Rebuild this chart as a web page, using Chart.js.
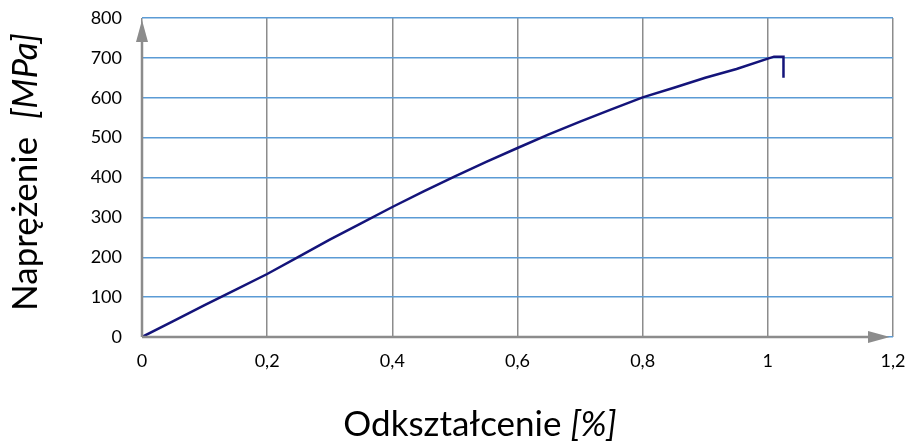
<!DOCTYPE html>
<html>
<head>
<meta charset="utf-8">
<script src="https://cdn.jsdelivr.net/npm/chart.js@4.4.0/dist/chart.umd.min.js"></script>
<style>
  html, body { margin: 0; padding: 0; background: #fff; }
  #wrap { width: 907px; height: 444px; }
</style>
</head>
<body>
<div id="wrap"><canvas id="chart"></canvas></div>
<script>
// strain [%] vs stress [MPa]
const strain = [0, 0.05, 0.1, 0.15, 0.2, 0.25, 0.3, 0.35, 0.4, 0.45, 0.5, 0.55, 0.6, 0.65, 0.7, 0.75, 0.8, 0.85, 0.9, 0.95, 1.0, 1.01, 1.025, 1.025];
const stress = [0, 40, 80, 119, 158, 201, 244, 285, 326, 365, 403, 439, 474, 508, 540, 571, 601, 625, 650, 672, 698, 703, 703, 650];
const xTicks = [0, 0.2, 0.4, 0.6, 0.8, 1.0, 1.2];
const yTicks = [0, 100, 200, 300, 400, 500, 600, 700, 800];

const xTitle = ['Odkształcenie ', '[%]'];
const yTitle = ['Naprężenie  ', '[MPa]'];

const points = strain.map(function(s, i) { return {x: s, y: stress[i]}; });

const FONT = 'Lato, "Open Sans", sans-serif';

function drawSplit(ctx, parts, size) {
  ctx.font = size + 'px ' + FONT;
  var w1 = ctx.measureText(parts[0]).width;
  ctx.font = 'italic ' + size + 'px ' + FONT;
  var w2 = ctx.measureText(parts[1]).width;
  var start = -(w1 + w2) / 2;
  ctx.textAlign = 'left';
  ctx.font = size + 'px ' + FONT;
  ctx.fillText(parts[0], start, 0);
  ctx.font = 'italic ' + size + 'px ' + FONT;
  ctx.fillText(parts[1], start + w1, 0);
}

const axesPlugin = {
  id: 'axesPlugin',
  afterDatasetsDraw: function(chart) {
    var ctx = chart.ctx;
    var xs = chart.scales.x, ys = chart.scales.y;
    var x0 = xs.getPixelForValue(0), y0 = ys.getPixelForValue(0);
    var xEnd = xs.getPixelForValue(1.2) - 3;
    var yEnd = ys.getPixelForValue(800) + 2;
    ctx.save();
    ctx.strokeStyle = '#8c8c8c';
    ctx.fillStyle = '#8c8c8c';
    ctx.lineWidth = 2.5;
    ctx.beginPath();
    ctx.moveTo(x0, y0);
    ctx.lineTo(xEnd - 18, y0);
    ctx.moveTo(x0, y0);
    ctx.lineTo(x0, yEnd + 18);
    ctx.stroke();
    // arrow heads
    ctx.beginPath();
    ctx.moveTo(xEnd, y0);
    ctx.lineTo(xEnd - 22, y0 - 6);
    ctx.lineTo(xEnd - 22, y0 + 6);
    ctx.closePath();
    ctx.fill();
    ctx.beginPath();
    ctx.moveTo(x0, yEnd);
    ctx.lineTo(x0 - 6, yEnd + 22);
    ctx.lineTo(x0 + 6, yEnd + 22);
    ctx.closePath();
    ctx.fill();
    ctx.restore();
  },
  afterDraw: function(chart) {
    var ctx = chart.ctx;
    ctx.save();
    ctx.fillStyle = '#000';
    ctx.textBaseline = 'alphabetic';
    ctx.translate(480, 436);
    drawSplit(ctx, xTitle, 35);
    ctx.restore();
    ctx.save();
    ctx.fillStyle = '#000';
    ctx.textBaseline = 'alphabetic';
    ctx.translate(37, 172);
    ctx.rotate(-Math.PI / 2);
    drawSplit(ctx, yTitle, 35);
    ctx.restore();
  }
};

new Chart(document.getElementById('chart'), {
  type: 'scatter',
  data: {
    datasets: [{
      data: points,
      showLine: true,
      borderColor: '#14147a',
      borderWidth: 2.5,
      pointRadius: 0,
      tension: 0
    }]
  },
  options: {
    responsive: true,
    maintainAspectRatio: false,
    animation: false,
    layout: { padding: { top: 18, right: 14, bottom: 0, left: 0 } },
    plugins: { legend: { display: false }, tooltip: { enabled: false } },
    scales: {
      x: {
        type: 'linear',
        min: 0,
        max: 1.2,
        afterBuildTicks: function(scale) { scale.ticks = xTicks.map(function(v) { return {value: v}; }); },
        afterFit: function(scale) {
          scale.height = 107;
          scale.paddingLeft = 0;
          scale.paddingRight = 0;
        },
        border: { display: false },
        grid: { color: '#8c8c8c', lineWidth: 1.5, drawTicks: false },
        ticks: {
          padding: 13,
          color: '#000',
          font: { family: FONT, size: 18 },
          callback: function(v) { return String(v).replace('.', ','); }
        }
      },
      y: {
        type: 'linear',
        min: 0,
        max: 800,
        afterBuildTicks: function(scale) { scale.ticks = yTicks.map(function(v) { return {value: v}; }); },
        afterFit: function(scale) {
          scale.width = 142;
          scale.paddingTop = 0;
          scale.paddingBottom = 0;
        },
        border: { display: false },
        grid: { color: '#5b9bd5', lineWidth: 1.5, drawTicks: false },
        ticks: {
          padding: 20,
          color: '#000',
          font: { family: FONT, size: 18 }
        }
      }
    }
  },
  plugins: [axesPlugin]
});
</script>
</body>
</html>
